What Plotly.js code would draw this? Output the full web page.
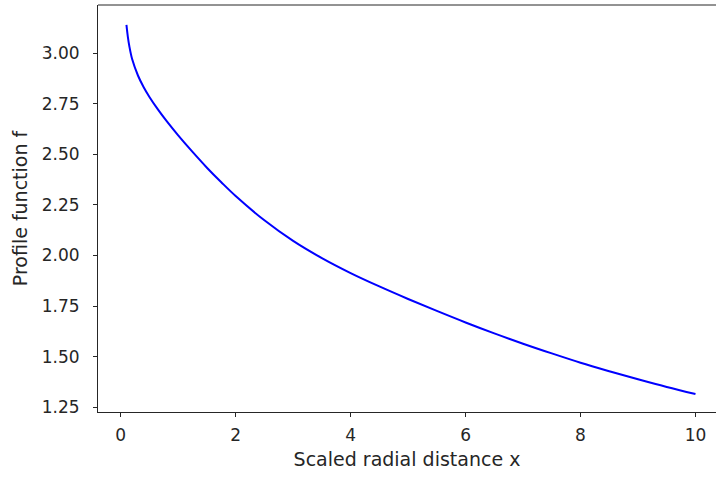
<!DOCTYPE html>
<html>
<head>
<meta charset="utf-8">
<script src="https://cdn.plot.ly/plotly-3.0.1.min.js"></script>
<style>html,body{margin:0;padding:0;background:#fff;}#chart{width:716px;height:478px;}</style>
</head>
<body>
<div id="chart"></div>
<script>
const xValues = [0.1, 0.125, 0.15, 0.2, 0.3, 0.4, 0.5, 0.65, 0.8, 1.0, 1.25, 1.5, 1.75, 2.0, 2.5, 3.0, 3.5, 4.0, 4.5, 5.0, 5.5, 6.0, 6.5, 7.0, 7.5, 8.0, 8.5, 9.0, 9.5, 10.0];
const fValues = [3.140, 3.080, 3.035, 2.970, 2.890, 2.832, 2.784, 2.721, 2.664, 2.594, 2.512, 2.434, 2.362, 2.294, 2.174, 2.072, 1.987, 1.913, 1.847, 1.785, 1.726, 1.669, 1.615, 1.564, 1.516, 1.470, 1.428, 1.388, 1.350, 1.315];
const xTicks = [0, 2, 4, 6, 8, 10];
const yTicks = [1.25, 1.50, 1.75, 2.00, 2.25, 2.50, 2.75, 3.00];

const tickFont = {family: 'DejaVu Sans', size: 17, color: '#262626'};
const titleFont = {family: 'DejaVu Sans', size: 19, color: '#262626'};

const trace = {
  x: xValues, y: fValues, type: 'scatter', mode: 'lines',
  line: {color: '#0000ff', width: 2, shape: 'spline', smoothing: 1},
  hoverinfo: 'skip'
};

const layout = {
  width: 716, height: 478,
  margin: {l: 98, r: 0, t: 5, b: 65.5, pad: 0},
  paper_bgcolor: '#ffffff', plot_bgcolor: '#ffffff',
  showlegend: false,
  font: tickFont,
  xaxis: {
    range: [-0.395, 10.357],
    tickvals: xTicks, ticktext: xTicks.map(String),
    ticks: 'outside', ticklen: 4, tickwidth: 1, tickcolor: '#262626',
    showline: true, linecolor: '#262626', linewidth: 1, mirror: false,
    showgrid: false, zeroline: false,
    tickfont: tickFont, ticklabelstandoff: 4,
    automargin: false,
    title: {text: 'Scaled radial distance x', font: titleFont, standoff: 8}
  },
  yaxis: {
    range: [1.2263, 3.2385],
    tickvals: yTicks, ticktext: yTicks.map(v => v.toFixed(2)),
    ticks: 'outside', ticklen: 4, tickwidth: 1, tickcolor: '#262626',
    showline: true, linecolor: '#262626', linewidth: 1, mirror: false,
    showgrid: false, zeroline: false,
    tickfont: tickFont, ticklabelstandoff: 10,
    automargin: false,
    title: {text: 'Profile function f', font: titleFont, standoff: 9}
  },
  shapes: [{type: 'line', xref: 'paper', yref: 'paper', x0: 0, x1: 1, y0: 1, y1: 1,
            line: {color: '#262626', width: 1}}]
};

Plotly.newPlot('chart', [trace], layout, {displayModeBar: false, staticPlot: true});
</script>
</body>
</html>
